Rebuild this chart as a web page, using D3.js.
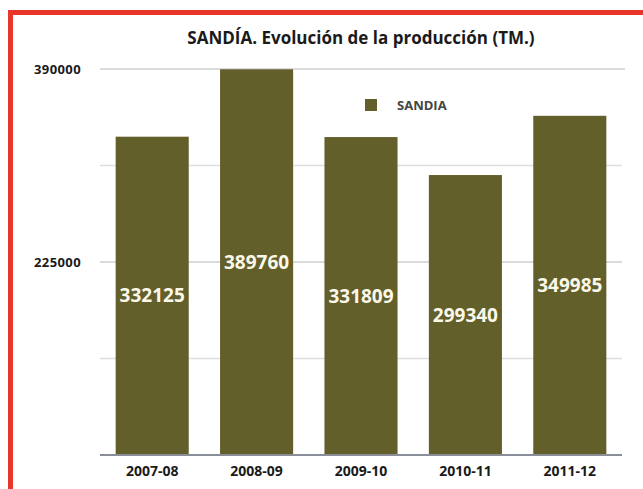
<!DOCTYPE html>
<html>
<head>
<meta charset="utf-8">
<script src="https://cdn.jsdelivr.net/npm/d3@7"></script>
<style>
  body { margin: 0; background: #fff; }
  text { font-family: "Open Sans", sans-serif; font-weight: bold; }
</style>
</head>
<body>
<div class="chart"></div>
<script>
var campaigns = ["2007-08", "2008-09", "2009-10", "2010-11", "2011-12"];
var produccion = [332125, 389760, 331809, 299340, 349985];
var yTicks = [60000, 142500, 225000, 307500, 390000];
var yLabels = [225000, 390000];

var width = 643, height = 489,
    margin = ({ top: 69, right: 21, bottom: 34, left: 100 });

var svg = d3.select(".chart").append("svg")
    .attr("width", width)
    .attr("height", height);

// red frame (left + top)
svg.append("rect").attr("x", 8).attr("y", 10).attr("width", width).attr("height", 5).attr("fill", "#e8362a");
svg.append("rect").attr("x", 8).attr("y", 10).attr("width", 5).attr("height", height).attr("fill", "#e8362a");

x = d3.scaleBand()
    .domain(campaigns)
    .range([margin.left, width - margin.right])
    .paddingInner(0.3)
    .paddingOuter(0.15);

y = d3.scaleLinear()
    .domain([60000, 390000])
    .range([height - margin.bottom, margin.top]);

// gridlines
svg.append("g")
    .selectAll("line")
    .data(yTicks.slice(1))
    .join("line")
    .attr("x1", margin.left)
    .attr("x2", d => d == 390000 ? 625 : width - margin.right)
    .attr("y1", d => y(d))
    .attr("y2", d => y(d))
    .attr("stroke", d => yLabels.includes(d) ? "#cfcfcf" : "#dedede")
    .attr("stroke-width", 1.5);

svg.append("g")
    .selectAll("text")
    .data(yLabels)
    .join("text")
    .attr("x", 81)
    .attr("y", d => y(d))
    .attr("dy", "0.35em")
    .attr("text-anchor", "end")
    .attr("font-size", 13)
    .attr("letter-spacing", 0.4)
    .attr("fill", "#1a1a1a")
    .text(d => d);

// bars
svg.append("g")
    .selectAll("rect")
    .data(produccion)
    .join("rect")
    .attr("x", (d, i) => x(campaigns[i]))
    .attr("width", x.bandwidth())
    .attr("y", d => y(d))
    .attr("height", d => y(60000) - y(d))
    .attr("fill", "#625f2a");

svg.append("g")
    .selectAll("text")
    .data(produccion)
    .join("text")
    .attr("x", (d, i) => x(campaigns[i]) + x.bandwidth() / 2)
    .attr("y", d => (y(d) + y(60000)) / 2)
    .attr("dy", "0.35em")
    .attr("text-anchor", "middle")
    .attr("font-size", 19)
    .attr("fill", "#fbf8ea")
    .text(d => d);

// baseline
svg.append("line")
    .attr("x1", margin.left)
    .attr("x2", width - margin.right)
    .attr("y1", y(60000))
    .attr("y2", y(60000))
    .attr("stroke", "#8a8e99")
    .attr("stroke-width", 2);

xAxis = g => g
    .attr("transform", `translate(0,${height - margin.bottom + 16})`)
    .call(d3.axisBottom(x).tickSize(0).tickPadding(0))
    .call(g => g.select(".domain").remove())
    .call(g => g.selectAll("text")
        .attr("font-size", 14)
        .attr("font-family", null)
        .attr("fill", "#1a1a1a")
        .attr("dy", "0.35em"));

svg.append("g").call(xAxis);

// title
svg.append("text")
    .attr("x", 361)
    .attr("y", 38)
    .attr("dy", "0.35em")
    .attr("text-anchor", "middle")
    .attr("font-size", 17)
    .attr("fill", "#1a1a1a")
    .text("SANDÍA. Evolución de la producción (TM.)");

// legend
svg.append("rect")
    .attr("x", 365).attr("y", 99)
    .attr("width", 12).attr("height", 12)
    .attr("fill", "#625f2a");
svg.append("text")
    .attr("x", 397).attr("y", 105)
    .attr("dy", "0.35em")
    .attr("font-size", 13)
    .attr("fill", "#444")
    .text("SANDIA");
</script>
</body>
</html>
